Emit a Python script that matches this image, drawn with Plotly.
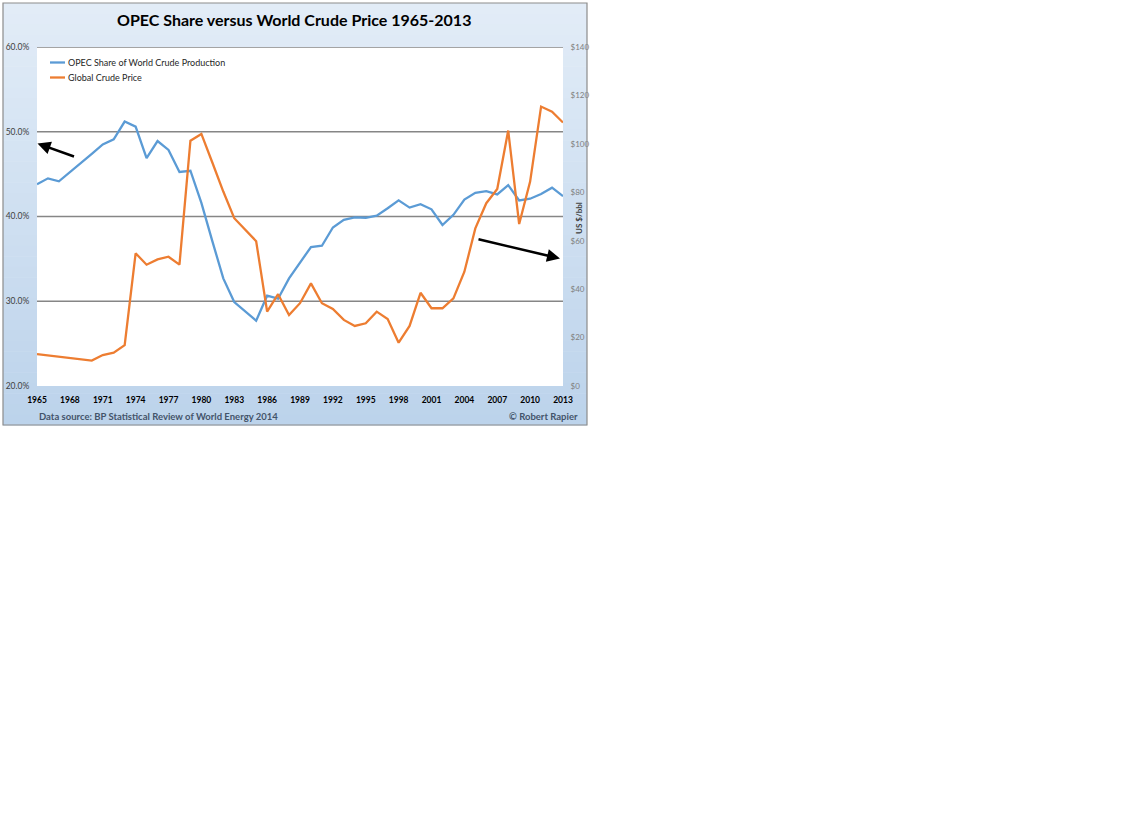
import plotly.graph_objects as go

years = [1965, 1966, 1967, 1968, 1969, 1970, 1971, 1972, 1973, 1974, 1975, 1976,
         1977, 1978, 1979, 1980, 1981, 1982, 1983, 1984, 1985, 1986, 1987, 1988,
         1989, 1990, 1991, 1992, 1993, 1994, 1995, 1996, 1997, 1998, 1999, 2000,
         2001, 2002, 2003, 2004, 2005, 2006, 2007, 2008, 2009, 2010, 2011, 2012, 2013]

opec_share = [43.8, 44.5, 44.15, 45.2, 46.3, 47.4, 48.5, 49.1, 51.2, 50.6, 46.9, 48.9,
              47.85, 45.25, 45.4, 41.6, 37.1, 32.7, 29.9, 28.8, 27.7, 30.65, 30.3, 32.7,
              34.5, 36.4, 36.55, 38.7, 39.6, 39.9, 39.85, 40.1, 40.97, 41.9, 41.05, 41.45,
              40.85, 39.0, 40.2, 42.0, 42.8, 43.0, 42.6, 43.7, 41.9, 42.1, 42.65, 43.4, 42.4]

crude_price = [13.2, 12.7, 12.2, 11.6, 11.0, 10.5, 12.8, 13.8, 16.9, 54.8, 50.1, 52.3,
               53.4, 50.1, 101.3, 104.1, 92.3, 80.3, 69.3, 64.4, 59.8, 30.7, 37.9, 29.3,
               34.2, 42.4, 34.2, 31.8, 27.3, 24.8, 25.9, 30.7, 27.7, 17.9, 24.8, 38.5,
               32.1, 32.1, 36.2, 47.2, 65.1, 75.5, 81.4, 105.5, 66.9, 84.4, 115.4, 113.3, 108.8]

x_ticks = [1965, 1968, 1971, 1974, 1977, 1980, 1983, 1986, 1989, 1992, 1995, 1998,
           2001, 2004, 2007, 2010, 2013]
share_ticks = [20, 30, 40, 50, 60]
share_ticktext = ["20.0%", "30.0%", "40.0%", "50.0%", "60.0%"]
grid_levels = [30, 40, 50, 60]
price_ticks = [0, 20, 40, 60, 80, 100, 120, 140]
price_ticktext = ["$0", "$20", "$40", "$60", "$80", "$100", "$120", "$140"]

series_names = ["OPEC Share of World Crude Production", "Global Crude Price"]
series_colors = ["#5B9BD5", "#ED7D31"]

W, H = 1123, 826
FONT = "Lato"


def px(v):
    return v / W


def py(v):
    return 1 - v / H


fig = go.Figure()
fig.add_trace(go.Scatter(x=years, y=opec_share, mode="lines", name=series_names[0],
                         line=dict(color=series_colors[0], width=2.3), yaxis="y"))
fig.add_trace(go.Scatter(x=years, y=crude_price, mode="lines", name=series_names[1],
                         line=dict(color=series_colors[1], width=2.3), yaxis="y2"))

shapes = []
# gradient background of the chart frame (vertical bands)
top_c = (226, 236, 247)
bot_c = (188, 211, 235)
n = 40
y_top, y_bot = 3, 425
for i in range(n):
    t = i / (n - 1)
    c = tuple(round(top_c[k] + (bot_c[k] - top_c[k]) * t) for k in range(3))
    y0 = y_top + (y_bot - y_top) * i / n
    y1 = y_top + (y_bot - y_top) * (i + 1) / n
    shapes.append(dict(type="rect", xref="paper", yref="paper",
                       x0=px(3), x1=px(587), y0=py(y0), y1=py(y1 + 0.5),
                       fillcolor="rgb(%d,%d,%d)" % c, line=dict(width=0), layer="below"))
# white plot area
shapes.append(dict(type="rect", xref="x domain", yref="y domain", x0=0, x1=1, y0=0, y1=1,
                   fillcolor="white", line=dict(width=0), layer="below"))
# horizontal gridlines
for g in grid_levels:
    shapes.append(dict(type="line", xref="x domain", yref="y", x0=0, x1=1, y0=g, y1=g,
                       line=dict(color="#868686", width=1.6), layer="below"))
# chart border
shapes.append(dict(type="rect", xref="paper", yref="paper", x0=px(3), x1=px(587),
                   y0=py(425), y1=py(3), line=dict(color="#8C8C8C", width=1.2),
                   fillcolor="rgba(0,0,0,0)", layer="above"))
# legend samples
for i, c in enumerate(series_colors):
    yy = 62.5 + 15 * i
    shapes.append(dict(type="line", xref="paper", yref="paper", x0=px(50), x1=px(65),
                       y0=py(yy), y1=py(yy), line=dict(color=c, width=2.3)))

annotations = [
    dict(text="<b>OPEC Share versus World Crude Price 1965-2013</b>", xref="paper", yref="paper",
         x=px(294), y=py(19), showarrow=False, xanchor="center", yanchor="middle",
         font=dict(family=FONT, size=16, color="#000000")),
    dict(text="Data source: BP Statistical Review of World Energy 2014", xref="paper", yref="paper",
         x=px(37), y=py(416), showarrow=False, xanchor="left", yanchor="middle",
         font=dict(family=FONT, size=9.5, color="#44546A", weight="bold")),
    dict(text="© Robert Rapier", xref="paper", yref="paper",
         x=px(580), y=py(416), showarrow=False, xanchor="right", yanchor="middle",
         font=dict(family=FONT, size=9.5, color="#44546A", weight="bold")),
    dict(text="<b>US $/bbl</b>", xref="paper", yref="paper", textangle=-90,
         x=px(579), y=py(218), showarrow=False, xanchor="center", yanchor="middle",
         font=dict(family=FONT, size=8, color="#404040")),
    # arrows
    dict(text="", xref="paper", yref="paper", x=px(37.5), y=py(143.5), ax=38, ay=13.5,
         showarrow=True, arrowhead=2, arrowsize=1, arrowwidth=2.6, arrowcolor="#000000"),
    dict(text="", xref="paper", yref="paper", x=px(560), y=py(258.5), ax=-83, ay=-19.5,
         showarrow=True, arrowhead=2, arrowsize=1, arrowwidth=2.6, arrowcolor="#000000"),
]
for i, name in enumerate(series_names):
    annotations.append(dict(text=name, xref="paper", yref="paper", x=px(66), y=py(62.5 + 15 * i),
                            showarrow=False, xanchor="left", yanchor="middle",
                            font=dict(family=FONT, size=9, color="#262626")))

fig.update_layout(
    width=W, height=H,
    margin=dict(l=0, r=0, t=0, b=0, pad=0, autoexpand=False),
    paper_bgcolor="white",
    plot_bgcolor="white",
    showlegend=False,
    font=dict(family=FONT, size=9, color="#404040"),
    xaxis=dict(domain=[px(37), px(563)], range=[1965, 2013], tickvals=x_ticks,
               automargin=False,
               showgrid=False, zeroline=False, showline=False,
               ticks="outside", ticklen=6, tickcolor="rgba(0,0,0,0)",
               tickfont=dict(family=FONT, size=8.5, color="#000000", weight="bold")),
    yaxis=dict(domain=[py(386), py(47)], range=[20, 60], tickvals=share_ticks,
               ticktext=share_ticktext, automargin=False,
               showgrid=False, zeroline=False, showline=False,
               ticks="outside", ticklen=5, tickcolor="rgba(0,0,0,0)",
               tickfont=dict(family=FONT, size=8.5, color="#404040")),
    yaxis2=dict(overlaying="y", side="right", range=[0, 140], tickvals=price_ticks,
                ticktext=price_ticktext, automargin=False,
                showgrid=False, zeroline=False, showline=False,
                ticks="outside", ticklen=5, tickcolor="rgba(0,0,0,0)",
                tickfont=dict(family=FONT, size=8, color="#7F7F7F")),
    shapes=shapes,
    annotations=annotations,
)

fig.write_html("out.html", config={"displayModeBar": False},
               post_script="document.body.style.margin='0px';")
